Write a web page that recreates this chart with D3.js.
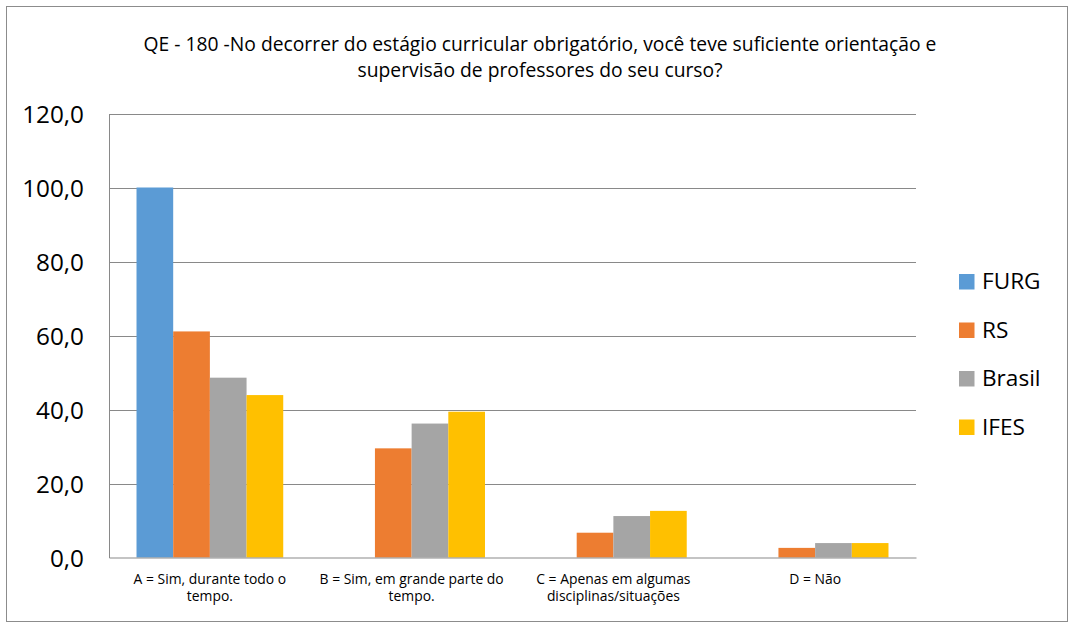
<!DOCTYPE html>
<html>
<head>
<meta charset="utf-8">
<script src="https://cdn.jsdelivr.net/npm/d3@7/dist/d3.min.js"></script>
<style>
  html, body { margin: 0; padding: 0; background: #fff; }
  svg { display: block; font-family: "Open Sans", "Noto Sans", sans-serif; }
</style>
</head>
<body>
<svg id="chart" width="1069" height="624"></svg>
<script>
// QE 180 answer shares (%) by group
const categories = [
  ["A = Sim, durante todo o", "tempo."],
  ["B = Sim, em grande parte do", "tempo."],
  ["C = Apenas em algumas", "disciplinas/situações"],
  ["D = Não"]
];
const seriesNames = ["FURG", "RS", "Brasil", "IFES"];
const furg   = [100.0, 0.0, 0.0, 0.0];
const rs     = [61.1, 29.5, 6.7, 2.6];
const brasil = [48.6, 36.2, 11.2, 3.9];
const ifes   = [43.9, 39.4, 12.6, 3.9];
const yTicks = [0, 20, 40, 60, 80, 100, 120];
const titleLines = [
  "QE - 180 -No decorrer do estágio curricular obrigatório, você teve suficiente orientação e",
  "supervisão de professores do seu curso?"
];
const colors = ["#5B9BD5", "#ED7D31", "#A5A5A5", "#FFC000"];

const FONT = "'Open Sans', 'Noto Sans', sans-serif";
const seriesValues = [furg, rs, brasil, ifes];
const svg = d3.select("#chart");

// outer frame
svg.append("rect")
  .attr("x", 6.5).attr("y", 6.5).attr("width", 1061).attr("height", 615)
  .attr("fill", "#fff").attr("stroke", "#8c8c8c").attr("stroke-width", 1);

const plot = { left: 109, right: 916, top: 113.5, bottom: 557.5 };

const x0 = d3.scaleBand()
  .domain(d3.range(categories.length))
  .range([plot.left, plot.right])
  .paddingInner(1.5 / 5.5)
  .paddingOuter(0.75 / 5.5);
const x1 = d3.scaleBand()
  .domain(d3.range(seriesNames.length))
  .range([0, x0.bandwidth()]);
const y = d3.scaleLinear().domain([0, 120]).range([plot.bottom, plot.top]);

// gridlines
svg.append("g")
  .selectAll("line")
  .data(yTicks.filter(t => t > 0))
  .join("line")
  .attr("x1", plot.left).attr("x2", plot.right)
  .attr("y1", d => Math.round(y(d)) + 0.5).attr("y2", d => Math.round(y(d)) + 0.5)
  .attr("stroke", "#898989").attr("stroke-width", 1);

// bars
const groups = svg.append("g")
  .selectAll("g")
  .data(categories.map((c, i) => i))
  .join("g")
  .attr("transform", i => `translate(${x0(i)},0)`);
groups.selectAll("rect")
  .data(i => seriesValues.map((vals, s) => ({ s, v: vals[i] })))
  .join("rect")
  .attr("x", d => x1(d.s))
  .attr("width", x1.bandwidth())
  .attr("y", d => y(d.v))
  .attr("height", d => y(0) - y(d.v))
  .attr("fill", d => colors[d.s]);

// y axis
const yAxis = svg.append("g")
  .attr("transform", `translate(${plot.left},0)`)
  .call(d3.axisLeft(y).tickValues(yTicks).tickSize(0).tickPadding(25)
    .tickFormat(d => d3.format(".1f")(d).replace(".", ",")));
yAxis.select(".domain").attr("stroke", "#898989");
yAxis.selectAll("text").attr("font-size", 24.3).attr("fill", "#000")
  .attr("dy", "0.36em").attr("font-family", FONT);

// x axis
const xAxis = svg.append("g")
  .attr("transform", `translate(0,${plot.bottom})`)
  .call(d3.axisBottom(d3.scaleBand().domain(d3.range(categories.length)).range([plot.left, plot.right]))
    .tickSize(0).tickFormat(""));
xAxis.select(".domain").attr("stroke", "#898989");
xAxis.selectAll(".tick").each(function(i) {
  const t = d3.select(this).append("text")
    .attr("text-anchor", "middle").attr("fill", "#000")
    .attr("font-family", FONT).attr("font-size", 13.9);
  categories[i].forEach((line, k) => {
    t.append("tspan").attr("x", 0).attr("y", 26 + k * 17).text(line);
  });
});

// title
svg.append("text")
  .attr("text-anchor", "middle").attr("font-size", 19.3).attr("fill", "#000")
  .selectAll("tspan").data(titleLines).join("tspan")
  .attr("x", 540).attr("y", (d, i) => 50.5 + i * 26).text(d => d);

// legend
const legend = svg.append("g").attr("transform", "translate(959,0)");
const leg = legend.selectAll("g").data(seriesNames).join("g")
  .attr("transform", (d, i) => `translate(0,${289 + i * 48.5})`);
leg.append("rect").attr("x", 0).attr("y", -15).attr("width", 15.5).attr("height", 15.5)
  .attr("fill", (d, i) => colors[i]);
leg.append("text").attr("x", 23).attr("y", 0).attr("font-size", 22.6).attr("fill", "#000")
  .text(d => d);
</script>
</body>
</html>
